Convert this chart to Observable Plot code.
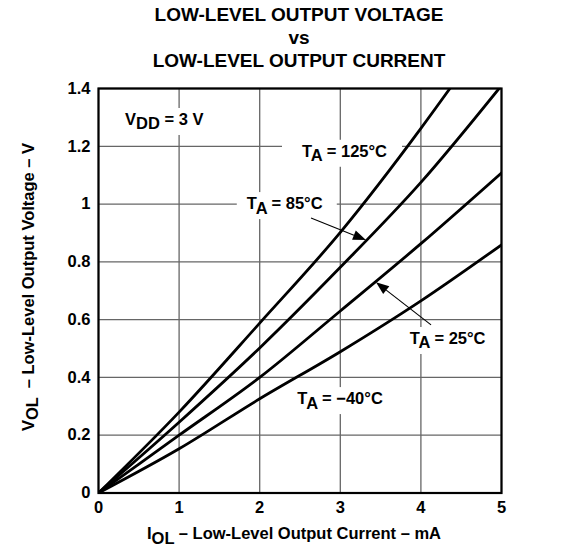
<!DOCTYPE html>
<html><head><meta charset="utf-8">
<script src="https://cdn.jsdelivr.net/npm/d3@7"></script>
<script src="https://cdn.jsdelivr.net/npm/@observablehq/plot@0.6"></script>
<style>body{margin:0;background:#fff;} svg{display:block}</style>
</head><body><div id="chart"></div>
<script>
// ---- data ----
const current125 = [0, 1, 2, 3, 4, 4.36];
const voltage125 = [0, 0.28, 0.588, 0.902, 1.262, 1.40];
const current85 = [0, 1, 2, 3, 4, 4.97];
const voltage85 = [0, 0.245, 0.502, 0.781, 1.075, 1.40];
const current25 = [0, 1, 2, 3, 4, 5];
const voltage25 = [0, 0.20, 0.40, 0.63, 0.863, 1.108];
const currentM40 = [0, 1, 2, 3, 4, 5];
const voltageM40 = [0, 0.153, 0.326, 0.489, 0.665, 0.859];
const seriesNames = ["125", "85", "25", "-40"];
const xTicks = [0, 1, 2, 3, 4, 5];
const xTickLabels = ["0", "1", "2", "3", "4", "5"];
const yTicks = [0, 0.2, 0.4, 0.6, 0.8, 1, 1.2, 1.4];
const yTickLabels = ["0", "0.2", "0.4", "0.6", "0.8", "1", "1.2", "1.4"];
const titleLines = ["LOW-LEVEL OUTPUT VOLTAGE", "vs", "LOW-LEVEL OUTPUT CURRENT"];

const seriesX = [current125, current85, current25, currentM40];
const seriesY = [voltage125, voltage85, voltage25, voltageM40];
const rows = [];
seriesNames.forEach((n, k) => seriesX[k].forEach((x, i) => rows.push({temp: n, x, y: seriesY[k][i]})));

// annotations: label anchor in data coordinates
const labels = [
  {main: "V", sub: "DD", rest: " = 3 V", x: 0.335, y: 1.272, bg: [-5, 85]},
  {main: "T", sub: "A", rest: " = 125°C", x: 2.531, y: 1.162, bg: [-20, 100]},
  {main: "T", sub: "A", rest: " = 85°C", x: 1.846, y: 0.981, bg: [-10, 90]},
  {main: "T", sub: "A", rest: " = 25°C", x: 3.867, y: 0.514, bg: [-5, 82]},
  {main: "T", sub: "A", rest: " = \u221240°C", x: 2.473, y: 0.306, bg: [-5, 93]}
];
const arrows = [
  {x1: 2.643, y1: 0.950, x2: 3.325, y2: 0.874},
  {x1: 4.132, y1: 0.580, x2: 3.449, y2: 0.728}
];

const FONT = "'Liberation Sans', Arial, Helvetica, sans-serif";

function annotate(index, scales) {
  const g = d3.create("svg:g").attr("font-family", FONT).attr("font-weight", "bold").attr("font-size", 16.5).attr("text-anchor", "start");
  for (const l of labels) {
    const px = scales.x(l.x), py = scales.y(l.y);
    if (l.bg) g.append("rect").attr("x", px + l.bg[0]).attr("y", py - 17).attr("width", l.bg[1] - l.bg[0]).attr("height", 27).attr("fill", "#fff");
    const t = g.append("text").attr("x", px).attr("y", py).attr("fill", "#000").attr("text-anchor", "start");
    t.append("tspan").text(l.main);
    t.append("tspan").attr("dy", 4.5).text(l.sub);
    t.append("tspan").attr("dy", -4.5).text(l.rest);
  }
  for (const a of arrows) {
    const x1 = scales.x(a.x1), y1 = scales.y(a.y1), x2 = scales.x(a.x2), y2 = scales.y(a.y2);
    const ang = Math.atan2(y2 - y1, x2 - x1);
    const L = 13, W = 5;
    const bx = x2 - L * Math.cos(ang), by = y2 - L * Math.sin(ang);
    g.append("line").attr("x1", x1).attr("y1", y1).attr("x2", bx).attr("y2", by).attr("stroke", "#000").attr("stroke-width", 1.1);
    const nx = -Math.sin(ang) * W, ny = Math.cos(ang) * W;
    g.append("path").attr("d", `M${x2},${y2}L${bx + nx},${by + ny}L${bx - nx},${by - ny}Z`).attr("fill", "#000");
  }
  return g.node();
}

const plot = Plot.plot({
  width: 563, height: 558,
  marginLeft: 98, marginRight: 62, marginTop: 88, marginBottom: 65.5,
  x: {domain: [0, 5]},
  y: {domain: [0, 1.4]},
  style: {fontFamily: FONT, background: "#fff", color: "#000"},
  marks: [
    Plot.gridX(xTicks, {stroke: "#666", strokeOpacity: 1, strokeWidth: 1.3}),
    Plot.gridY(yTicks, {stroke: "#666", strokeOpacity: 1, strokeWidth: 1.3}),
    Plot.axisX(xTicks, {tickSize: 0, tickPadding: 8, fontSize: 16.5, fontWeight: "bold", tickFormat: d => xTickLabels[xTicks.indexOf(d)], label: null}),
    Plot.axisY(yTicks, {tickSize: 0, tickPadding: 8, fontSize: 16.5, fontWeight: "bold", tickFormat: d => yTickLabels[yTicks.indexOf(d)], label: null}),
    annotate,
    Plot.line(rows, {x: "x", y: "y", z: "temp", stroke: "#000", strokeWidth: 2.8, curve: "monotone-x", clip: true}),
    Plot.frame({stroke: "#000", strokeWidth: 2.2})
  ]
});

const svg = d3.select(plot);
const tg = svg.append("g").attr("font-family", FONT).attr("font-weight", "bold").attr("fill", "#000");
const titleY = [21, 43.5, 67];
titleLines.forEach((s, i) => tg.append("text").attr("x", 299).attr("y", titleY[i]).attr("text-anchor", "middle").attr("font-size", 19).text(s));

const xl = tg.append("text").attr("x", 294).attr("y", 539).attr("text-anchor", "middle").attr("font-size", 16.5);
xl.append("tspan").text("I");
xl.append("tspan").attr("dy", 4.5).text("OL");
xl.append("tspan").attr("dy", -4.5).text(" \u2013 Low-Level Output Current \u2013 mA");

const yl = tg.append("text").attr("transform", "translate(33.5,287) rotate(-90)").attr("text-anchor", "middle").attr("font-size", 16.5);
yl.append("tspan").text("V");
yl.append("tspan").attr("dy", 4.5).text("OL");
yl.append("tspan").attr("dy", -4.5).text("  \u2013 Low-Level Output Voltage \u2013 V");

document.getElementById("chart").appendChild(plot);
</script>
</body></html>
